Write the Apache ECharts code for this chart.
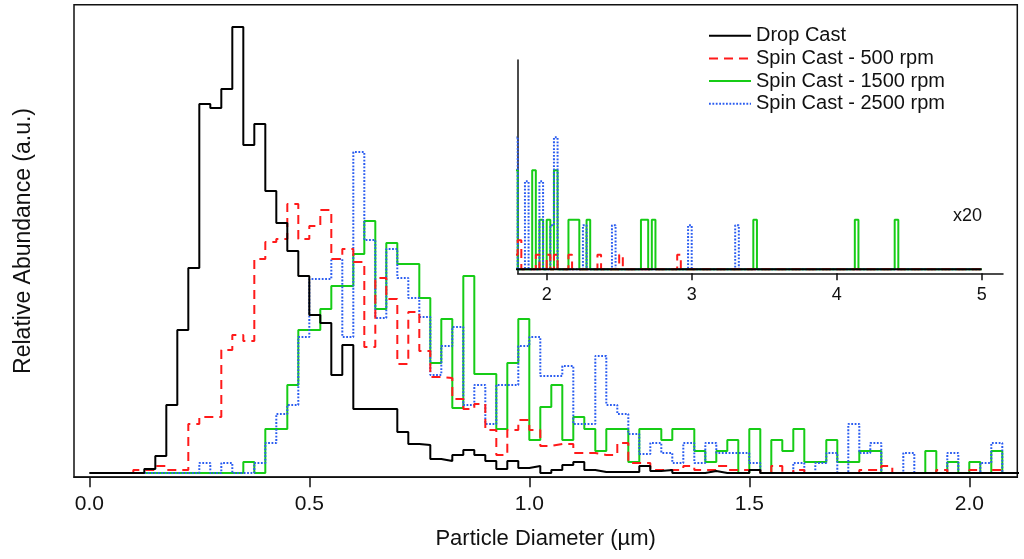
<!DOCTYPE html>
<html>
<head>
<meta charset="utf-8">
<script src="https://cdn.jsdelivr.net/npm/echarts@6/dist/echarts.min.js"></script>
<style>
html,body{margin:0;padding:0;background:#fff;}
#chart{width:1024px;height:559px;}
</style>
</head>
<body>
<div id="chart"></div>
<script>
// histogram bins are 0.025 um wide, values are relative abundance (a.u.)
var binWidth = 0.025;
var seriesNames = ['Drop Cast', 'Spin Cast - 500 rpm', 'Spin Cast - 1500 rpm', 'Spin Cast - 2500 rpm'];

// main plot, first bin of each series (left edge, um) + bin heights
var dropStart = 0.0;
var dropCast = [0,0,0,0,0,4,17,68,143,205, 369,365,384,446,328,349,282,250,222,197,
	158,150,98,128,64,64,64,64,41,29, 28,14,12,18,23,18,12,4,12,5,
	7,0,3,8,11,3,1,1,1,1, 7,2,3,0,0,0,2,0,0,0,
	3,0,0,0,0,0,0,0,0,0, 0,0,0,0,0,0,0,0,0,0, 0,0,0,0,0];
var spin500Start = 0.1;
var spin500 = [3,3,7,3,3,49,
	56,56,123,138,132,214,231,234,269,234, 247,263,214,224,211,126,195,174,109,161,
	122,96,95,74,64,69,43,18,43,53, 43,27,29,29,20,20,18,18,30,10,
	10,3,3,3,7,3,3,7,3,3, 3,0,7,0,3,0,0,0,0,0,
	3,3,7,0,0,0,0,3,0,0, 3,0,3,0,0];
var spin1500Start = 0.125;
var spin1500 = [0,0,0,0,0,
	0,0,0,0,11,0,44,44,88,143, 143,164,187,187,219,252,164,230,209,209,
	175,110,154,65,197,99,99,44,110,154, 33,66,88,33,56,44,22,44,44,11,
	44,44,33,44,44,22,11,22,33,0, 44,0,33,22,44,11,11,33,11,11,
	22,22,0,0,0,0,22,0,11,0, 11,0,22,0,0];
var spin2500Start = 0.125;
var spin2500 = [0,0,0,0,0,
	10,0,10,0,0,10,30,59,68,136, 194,194,214,136,321,233,155,224,195,175,
	156,98,127,146,68,88,49,88,88,127, 136,97,97,107,49,49,117,68,59,39,
	19,30,20,10,30,10,30,20,20,20, 10,0,0,0,10,0,10,20,0,49,
	20,30,0,0,20,0,0,0,20,0, 0,10,30,0,0];

// inset (x20), non-empty bins only: [bin left edge, height]
var insetStart = 1.775;
var insetEnd = 5.0;
var insetDrop = [];
var inset500 = [[1.775,14.6],[1.8,29],[1.925,14.6],[2.0,14.6],[2.05,14.6],[2.15,14.6],[2.35,14.6],[2.5,14.6],[2.9,14.6]];
var inset1500 = [[1.775,99],[1.9,99],[1.95,49.5],[2.0,49.5],[2.05,99],[2.15,49.5],[2.175,49.5],[2.2,49.5],[2.275,49.5],
	[2.65,49.5],[2.675,49.5],[2.725,49.5],[3.425,49.5],[4.125,49.5],[4.4,49.5]];
var inset2500 = [[1.775,132],[1.85,88],[1.95,88],[2.025,44],[2.05,132],[2.25,44],[2.45,44],[2.975,44],[3.3,44]];

var mainTicks = [0, 0.5, 1.0, 1.5, 2.0];
var insetTicks = [2, 3, 4, 5];

var colors = {'Drop Cast':'#000000','Spin Cast - 500 rpm':'#ff1a1a','Spin Cast - 1500 rpm':'#16cc16','Spin Cast - 2500 rpm':'#2a5cf0'};
var dashes = {'Drop Cast':'solid','Spin Cast - 500 rpm':[9,6],'Spin Cast - 1500 rpm':'solid','Spin Cast - 2500 rpm':[1.8,1.6]};

function stepPoints(start, values)
{
	var pts = [[start, 0]];
	for (var i = 0; i < values.length; i++)
		pts.push([+(start + i * binWidth).toFixed(4), values[i]]);
	pts.push([+(start + values.length * binWidth).toFixed(4), 0]);
	return pts;
}
function expandSparse(bars)
{
	var n = Math.round((insetEnd - insetStart) / binWidth);
	var v = [];
	for (var i = 0; i < n; i++) v.push(0);
	for (var j = 0; j < bars.length; j++)
		v[Math.round((bars[j][0] - insetStart) / binWidth)] = bars[j][1];
	return v;
}
function mkSeries(name, pts, idx)
{
	return {
		name: name,
		type: 'line',
		xAxisIndex: idx,
		yAxisIndex: idx,
		step: 'end',
		symbol: 'none',
		clip: true,
		data: pts,
		color: colors[name],
		lineStyle: {color: colors[name], width: 2, type: dashes[name]}
	};
}

var font = 'Liberation Sans';
var series = [];
// draw order: green, blue, red, black on top
series.push(mkSeries(seriesNames[2], stepPoints(spin1500Start, spin1500), 0));
series.push(mkSeries(seriesNames[3], stepPoints(spin2500Start, spin2500), 0));
series.push(mkSeries(seriesNames[1], stepPoints(spin500Start, spin500), 0));
series.push(mkSeries(seriesNames[0], stepPoints(dropStart, dropCast), 0));
series.push(mkSeries(seriesNames[2], stepPoints(insetStart, expandSparse(inset1500)), 1));
series.push(mkSeries(seriesNames[3], stepPoints(insetStart, expandSparse(inset2500)), 1));
series.push(mkSeries(seriesNames[1], stepPoints(insetStart, expandSparse(inset500)), 1));
series.push(mkSeries(seriesNames[0], stepPoints(insetStart, expandSparse(insetDrop)), 1));

var myecharts = echarts.init(document.getElementById('chart'));
var option = {
	animation: false,
	backgroundColor: '#fff',
	textStyle: {fontFamily: font, color: '#111'},
	grid: [
		{left: 74, top: 4.7, right: 6.7, bottom: 81.8, show: true, borderColor: '#111', borderWidth: 1.5, backgroundColor: 'transparent'},
		{left: 517.7, top: 60, right: 21, bottom: 285.7}
	],
	xAxis: [
		{
			type: 'value', gridIndex: 0, min: -0.0348, max: 2.1091,
			name: 'Particle Diameter (\u00b5m)', nameLocation: 'middle', nameGap: 51,
			nameTextStyle: {fontSize: 22, color: '#111', fontFamily: font},
			axisLine: {show: true, onZero: false, lineStyle: {color: '#111', width: 1.5}},
			axisTick: {show: true, inside: false, length: 10, customValues: mainTicks, lineStyle: {color: '#111', width: 1.5}},
			axisLabel: {customValues: mainTicks, margin: 17, fontSize: 21, color: '#111', fontFamily: font,
				formatter: function (v) { return v.toFixed(1); }},
			splitLine: {show: false}
		},
		{
			type: 'value', gridIndex: 1, min: 1.8, max: 5.147,
			axisLine: {show: true, onZero: false, lineStyle: {color: '#111', width: 1.5}},
			axisTick: {show: true, inside: false, length: 7, customValues: insetTicks, lineStyle: {color: '#111', width: 1.5}},
			axisLabel: {customValues: insetTicks, margin: 13, fontSize: 18, color: '#111', fontFamily: font},
			splitLine: {show: false}
		}
	],
	yAxis: [
		{
			type: 'value', gridIndex: 0, min: -4.3, max: 468.3,
			name: 'Relative Abundance (a.u.)', nameLocation: 'middle', nameGap: 39,
			nameTextStyle: {fontSize: 23, color: '#111', fontFamily: font},
			axisLine: {show: false, onZero: false},
			axisTick: {show: false}, axisLabel: {show: false}, splitLine: {show: false}
		},
		{
			type: 'value', gridIndex: 1, min: -4, max: 209.3,
			axisLine: {show: true, onZero: false, lineStyle: {color: '#111', width: 1.5}},
			axisTick: {show: false}, axisLabel: {show: false}, splitLine: {show: false}
		}
	],
	legend: {
		data: seriesNames,
		orient: 'vertical',
		left: 708, top: 25.7,
		itemWidth: 42, itemHeight: 20, itemGap: 2.7,
		selectedMode: false,
		padding: 0,
		itemStyle: {opacity: 0},
		lineStyle: {width: 2},
		textStyle: {fontSize: 20, lineHeight: 20, color: '#111', fontFamily: font}
	},
	graphic: [
		{type: 'text', left: 953, top: 207, style: {text: 'x20', font: '18px ' + font, fill: '#111'}}
	],
	series: series
};
myecharts.setOption(option);
</script>
</body>
</html>
